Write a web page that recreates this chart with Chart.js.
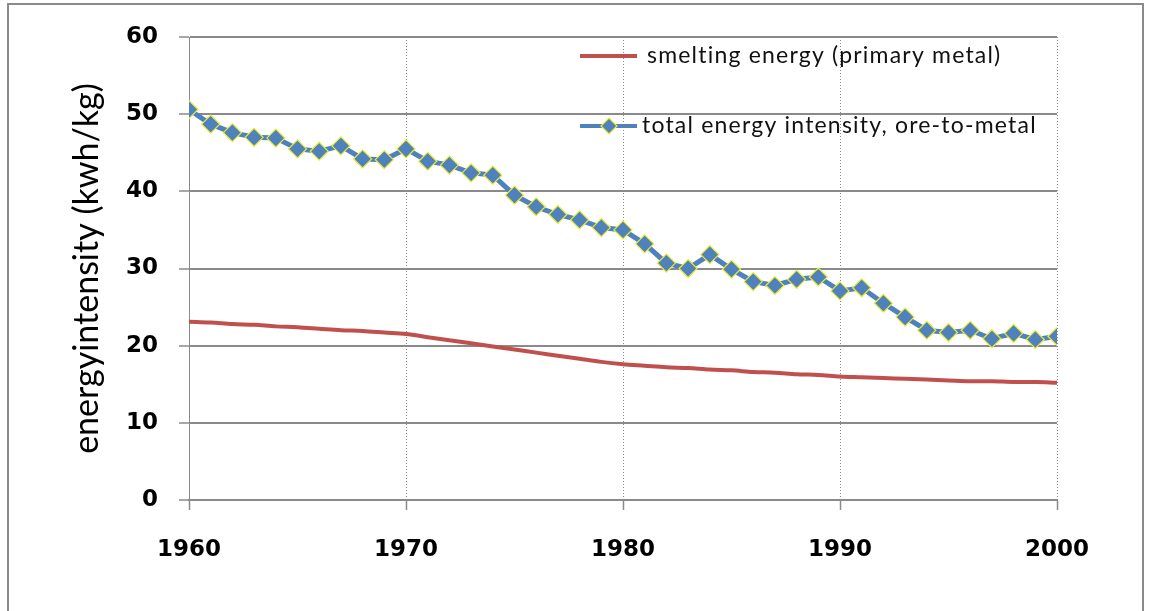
<!DOCTYPE html>
<html>
<head>
<meta charset="utf-8">
<script src="https://cdn.jsdelivr.net/npm/chart.js@4"></script>
<style>
  html, body { margin: 0; padding: 0; background: #fff; }
  #wrap { width: 1151px; height: 611px; }
</style>
</head>
<body>
<div id="wrap"><canvas id="energyChart" width="1151" height="611"></canvas></div>
<script>
const years = [1960, 1961, 1962, 1963, 1964, 1965, 1966, 1967, 1968, 1969,
  1970, 1971, 1972, 1973, 1974, 1975, 1976, 1977, 1978, 1979,
  1980, 1981, 1982, 1983, 1984, 1985, 1986, 1987, 1988, 1989,
  1990, 1991, 1992, 1993, 1994, 1995, 1996, 1997, 1998, 1999, 2000];

// smelting energy (primary metal)
const smelting = [23.1, 23.0, 22.8, 22.7, 22.5, 22.4, 22.2, 22.0, 21.9, 21.7,
  21.5, 21.1, 20.7, 20.3, 19.9, 19.5, 19.1, 18.7, 18.3, 17.9,
  17.6, 17.4, 17.2, 17.1, 16.9, 16.8, 16.6, 16.5, 16.3, 16.2,
  16.0, 15.9, 15.8, 15.7, 15.6, 15.5, 15.4, 15.4, 15.3, 15.3, 15.2];

// total energy intensity, ore-to-metal
const totalIntensity = [50.6, 48.7, 47.6, 47.0, 46.9, 45.5, 45.2, 45.9, 44.2, 44.1,
  45.5, 43.9, 43.4, 42.4, 42.1, 39.5, 38.0, 37.0, 36.3, 35.3,
  35.0, 33.2, 30.7, 30.0, 31.8, 29.9, 28.3, 27.8, 28.6, 28.9,
  27.1, 27.5, 25.5, 23.7, 22.0, 21.7, 22.0, 20.9, 21.6, 20.8, 21.2];

const xTicks = [1960, 1970, 1980, 1990, 2000];
const yTicks = [0, 10, 20, 30, 40, 50, 60];

const seriesNames = ['smelting energy (primary metal)', 'total energy intensity, ore-to-metal'];

const RED = '#C0504D';
const BLUE = '#4F81BD';
const YELLOW = '#EDED2E';
const GRID = '#8a8a8a';

const toPoints = vals => vals.map((v, i) => ({ x: years[i], y: v }));

// frame around the whole chart + legend drawn inside the plot
const decor = {
  id: 'decor',
  beforeDraw(chart) {
    const ctx = chart.ctx;
    ctx.save();
    ctx.strokeStyle = GRID;
    ctx.lineWidth = 2;
    ctx.strokeRect(8, 4, 1135, 640);
    ctx.restore();
  },
  afterDraw(chart) {
    const ctx = chart.ctx;
    ctx.save();
    ctx.font = '23px Lato';
    ctx.letterSpacing = '1.2px';
    ctx.fillStyle = '#111';
    ctx.textBaseline = 'middle';

    ctx.strokeStyle = RED;
    ctx.lineWidth = 4;
    ctx.beginPath();
    ctx.moveTo(580, 56);
    ctx.lineTo(637, 56);
    ctx.stroke();
    ctx.fillText(seriesNames[0], 647, 56);

    ctx.strokeStyle = BLUE;
    ctx.beginPath();
    ctx.moveTo(580, 126);
    ctx.lineTo(637, 126);
    ctx.stroke();
    ctx.beginPath();
    ctx.moveTo(601, 126);
    ctx.lineTo(609, 118);
    ctx.lineTo(617, 126);
    ctx.lineTo(609, 134);
    ctx.closePath();
    ctx.fillStyle = BLUE;
    ctx.fill();
    ctx.strokeStyle = YELLOW;
    ctx.lineWidth = 1.2;
    ctx.stroke();
    ctx.fillStyle = '#111';
    ctx.fillText(seriesNames[1], 642, 126);
    ctx.restore();
  }
};

const ctx = document.getElementById('energyChart').getContext('2d');
new Chart(ctx, {
  type: 'line',
  data: {
    datasets: [
      {
        label: seriesNames[0],
        data: toPoints(smelting),
        borderColor: RED,
        borderWidth: 4,
        pointRadius: 0,
        cubicInterpolationMode: 'monotone',
        fill: false
      },
      {
        label: seriesNames[1],
        data: toPoints(totalIntensity),
        borderColor: BLUE,
        borderWidth: 5,
        pointStyle: 'rectRot',
        pointRadius: 9,
        pointBackgroundColor: BLUE,
        pointBorderColor: YELLOW,
        pointBorderWidth: 1.2,
        fill: false
      }
    ]
  },
  options: {
    responsive: false,
    animation: false,
    layout: { padding: { left: 0, top: 37, right: 94, bottom: 0 } },
    plugins: {
      legend: { display: false },
      tooltip: { enabled: false }
    },
    scales: {
      x: {
        type: 'linear',
        min: 1960,
        max: 2000,
        afterBuildTicks: s => { s.ticks = xTicks.map(v => ({ value: v })); },
        afterFit: s => { s.height = 111; },
        grid: {
          color: GRID,
          lineWidth: 1,
          tickLength: 10,
          tickBorderDash: [],
          tickColor: GRID,
          tickWidth: 1.5
        },
        border: { color: GRID, width: 2, dash: [1, 2] },
        ticks: {
          font: { family: 'DejaVu Sans', weight: 'bold', size: 23 },
          color: '#000',
          padding: 26,
          maxRotation: 0,
          autoSkip: false,
          callback: v => String(v)
        }
      },
      y: {
        min: 0,
        max: 60,
        afterBuildTicks: s => { s.ticks = yTicks.map(v => ({ value: v })); },
        afterFit: s => { s.width = 189; },
        grid: { color: GRID, lineWidth: 2, tickLength: 10, tickWidth: 1.5 },
        border: { color: GRID, width: 1 },
        ticks: {
          font: { family: 'DejaVu Sans', weight: 'bold', size: 23 },
          color: '#000',
          padding: 21
        },
        title: {
          display: true,
          text: 'energyintensity (kwh/kg)',
          font: { family: 'Lato', size: 34 },
          color: '#000',
          padding: { top: 67, bottom: 0 }
        }
      }
    }
  },
  plugins: [decor]
});
</script>
</body>
</html>
